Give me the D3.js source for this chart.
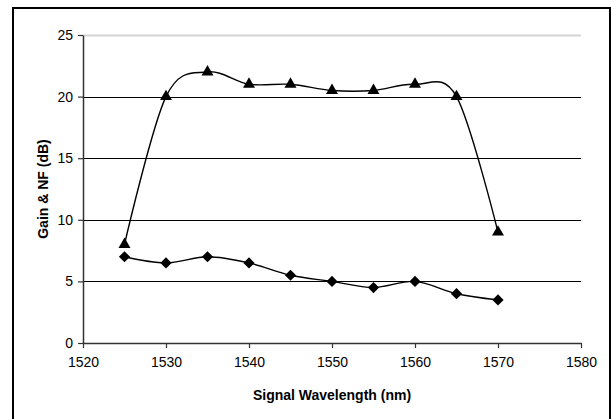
<!DOCTYPE html>
<html>
<head>
<meta charset="utf-8">
<script src="https://cdn.jsdelivr.net/npm/d3@7"></script>
<style>
    body { margin: 0; background: #fff; }
    text { font-family: "Liberation Sans", Arial, sans-serif; }
</style>
</head>
<body>
<script>
// chart data
var wavelengths = [1525, 1530, 1535, 1540, 1545, 1550, 1555, 1560, 1565, 1570];
var gain = [8, 20, 22, 21, 21, 20.5, 20.5, 21, 20, 9];
var noise_figure = [7, 6.5, 7, 6.5, 5.5, 5, 4.5, 5, 4, 3.5];
var x_ticks = [1520, 1530, 1540, 1550, 1560, 1570, 1580];
var y_ticks = [0, 5, 10, 15, 20, 25];

class GainChart {
    constructor(width = 611, height = 419) {
        this.total_width = width;
        this.total_height = height;
        this.margin = { top: 35, right: 30, bottom: 76, left: 83 };
        this.graph_width = 581 - this.margin.left;
        this.graph_height = 343 - this.margin.top;
        this.svg_container = null;
        this.inner_graph = null;
        this.x = null;
        this.y = null;
    }

    construct_svg(self = this) {
        self.svg_container = d3.select("body").append("svg")
            .attr("width", self.total_width)
            .attr("height", self.total_height);
        // outer frame (bottom edge runs off the picture)
        self.svg_container.append("rect")
            .attr("x", 13).attr("y", 8)
            .attr("width", 597).attr("height", 430)
            .attr("fill", "none")
            .attr("stroke", "#000")
            .attr("stroke-width", 2);
        self.inner_graph = self.svg_container.append("g")
            .attr("transform", "translate(" + self.margin.left + "," + self.margin.top + ")");
        self.x = d3.scaleLinear().domain([1520, 1580]).range([0, self.graph_width]);
        self.y = d3.scaleLinear().domain([0, 25]).range([self.graph_height, 0]);
    }

    construct_grid(self = this) {
        self.inner_graph.append("g")
            .selectAll("line")
            .data(y_ticks.filter(function (d) { return d > 0; }))
            .enter().append("line")
            .attr("x1", 0).attr("x2", self.graph_width)
            .attr("y1", function (d) { return Math.round(self.y(d)) + 0.5; })
            .attr("y2", function (d) { return Math.round(self.y(d)) + 0.5; })
            .attr("stroke", function (d) { return d === 25 ? "#d4d4d4" : "#000"; })
            .attr("stroke-width", function (d) { return d === 25 ? 2 : 1.2; });
    }

    construct_axes(self = this) {
        var x_axis = self.inner_graph.append("g")
            .attr("transform", "translate(0," + self.graph_height + ")")
            .call(d3.axisBottom(self.x).tickValues(x_ticks).tickFormat(d3.format("d"))
                .tickSize(5).tickSizeOuter(0).tickPadding(9));
        var y_axis = self.inner_graph.append("g")
            .call(d3.axisLeft(self.y).tickValues(y_ticks).tickFormat(d3.format("d"))
                .tickSize(5).tickSizeOuter(0).tickPadding(5));
        [x_axis, y_axis].forEach(function (a) {
            a.select(".domain").attr("stroke", "#333").attr("stroke-width", 1.5);
            a.selectAll(".tick line").attr("stroke", "#333").attr("stroke-width", 1.2);
            a.selectAll(".tick text").attr("font-size", 14).attr("fill", "#000")
                .attr("font-family", "'Liberation Sans', Arial, sans-serif");
        });

        self.svg_container.append("text")
            .attr("x", self.margin.left + self.graph_width / 2)
            .attr("y", 400)
            .attr("text-anchor", "middle")
            .attr("font-size", 14)
            .attr("font-weight", "bold")
            .text("Signal Wavelength (nm)");
        self.svg_container.append("text")
            .attr("transform", "translate(48," + (self.margin.top + self.graph_height / 2) + ") rotate(-90)")
            .attr("text-anchor", "middle")
            .attr("font-size", 14)
            .attr("font-weight", "bold")
            .text("Gain & NF (dB)");
    }

    construct_series(values, symbol, size, self = this) {
        var pts = wavelengths.map(function (w, i) { return [w, values[i]]; });
        var line = d3.line()
            .x(function (d) { return self.x(d[0]); })
            .y(function (d) { return self.y(d[1]); })
            .curve(d3.curveCardinal.tension(0));
        self.inner_graph.append("path")
            .datum(pts)
            .attr("d", line)
            .attr("fill", "none")
            .attr("stroke", "#000")
            .attr("stroke-width", 1.4);
        self.inner_graph.append("g")
            .selectAll("path")
            .data(pts)
            .enter().append("path")
            .attr("d", d3.symbol().type(symbol).size(size))
            .attr("transform", function (d) { return "translate(" + self.x(d[0]) + "," + self.y(d[1]) + ")"; })
            .attr("fill", "#000");
    }
}

var chart = new GainChart();
chart.construct_svg();
chart.construct_grid();
chart.construct_axes();
chart.construct_series(gain, d3.symbolTriangle, 62);
chart.construct_series(noise_figure, d3.symbolDiamond2, 80);
</script>
</body>
</html>
